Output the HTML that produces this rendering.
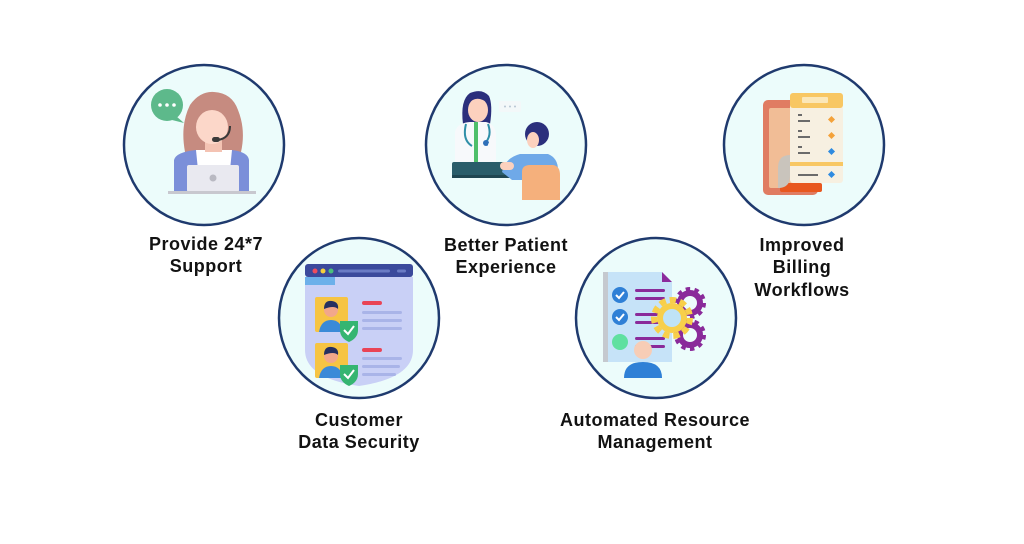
<!DOCTYPE html>
<html><head><meta charset="utf-8"><style>
html,body{margin:0;padding:0;background:#fff;}
svg{display:block;}
text{font-family:"Liberation Sans",Arial,sans-serif;font-weight:bold;font-size:18px;letter-spacing:0.5px;fill:#121212;text-anchor:middle;}
</style></head><body>
<svg width="1024" height="544" viewBox="0 0 1024 544" xmlns="http://www.w3.org/2000/svg">
<rect width="1024" height="544" fill="#fff"/>
<g fill="#ecfcfb" stroke="#1f3a6e" stroke-width="2.5">
<circle cx="204" cy="145" r="80"/>
<circle cx="506" cy="145" r="80"/>
<circle cx="804" cy="145" r="80"/>
<circle cx="359" cy="318" r="80"/>
<circle cx="656" cy="318" r="80"/>
</g>

<!-- Support icon -->
<g>
<circle cx="167" cy="105" r="16" fill="#5db98b"/>
<path d="M176 116 L184 123 L172 120 Z" fill="#5db98b"/>
<circle cx="160" cy="105" r="1.8" fill="#fff"/><circle cx="167" cy="105" r="1.8" fill="#fff"/><circle cx="174" cy="105" r="1.8" fill="#fff"/>
<path d="M185 152 Q180 125 190 105 Q200 91 214 92 Q232 93 238 110 Q246 130 241 152 Z" fill="#c68b80"/>
<path d="M174 192 L174 160 Q176 152 196 150 L232 150 Q248 152 249 160 L249 192 Z" fill="#7b8fd9"/>
<path d="M196 150 L232 150 L230 170 L198 170 Z" fill="#fff"/>
<rect x="205" y="138" width="17" height="14" fill="#f4c3b3"/>
<ellipse cx="212" cy="127" rx="16" ry="17" fill="#fcd7c9"/>
<path d="M195 114 Q208 98 231 112 L231 103 Q214 92 195 104 Z" fill="#c68b80"/>
<path d="M230 126 Q230 138 218 140" stroke="#3a3a3a" stroke-width="2" fill="none"/>
<rect x="212" y="137" width="8" height="5" rx="2.5" fill="#3a3a3a"/>
<rect x="187" y="165" width="52" height="27" rx="2" fill="#e9e9f0"/>
<circle cx="213" cy="178" r="3.5" fill="#b9b9c2"/>
<rect x="168" y="191" width="88" height="3" fill="#c8c8cf"/>
</g>

<!-- Patient icon -->
<g>
<rect x="499" y="101" width="22" height="11" rx="2" fill="#f3f8f9"/>
<circle cx="505" cy="106.5" r="1" fill="#b8c6d4"/><circle cx="510" cy="106.5" r="1" fill="#b8c6d4"/><circle cx="515" cy="106.5" r="1" fill="#b8c6d4"/>
<path d="M463 124 Q460 100 470 93 Q482 88 489 96 Q493 105 490 124 Z" fill="#2b2f7c"/>
<ellipse cx="478" cy="110" rx="10" ry="12" fill="#fcd1be"/>
<path d="M468 104 Q476 94 488 103 L488 96 Q478 90 468 98 Z" fill="#2b2f7c"/>
<path d="M455 162 L455 132 Q457 123 470 122 L486 122 Q495 124 496 134 L496 162 Z" fill="#f7f9fb"/>
<rect x="474" y="122" width="4" height="40" fill="#4fbf6a"/>
<path d="M466 124 Q462 140 472 146 M488 124 Q492 135 486 142" stroke="#2f8fa8" stroke-width="2" fill="none"/>
<circle cx="486" cy="143" r="3" fill="#2f6fb8"/>
<rect x="488" y="142" width="8" height="10" rx="3" fill="#f7f9fb"/>
<rect x="452" y="162" width="58" height="16" rx="2" fill="#2a5d6a"/>
<rect x="452" y="175" width="58" height="3" fill="#1f4651"/>
<circle cx="537" cy="134" r="12" fill="#2b2f7c"/>
<ellipse cx="533" cy="140" rx="6" ry="8" fill="#fcd1be"/>
<path d="M502 172 Q505 158 520 154 L548 154 Q558 158 558 170 L558 180 L512 180 Z" fill="#6fa9e8"/>
<rect x="500" y="162" width="14" height="8" rx="4" fill="#fcd1be"/>
<path d="M522 172 Q522 165 530 165 L553 165 Q560 166 560 175 L560 200 L522 200 Z" fill="#f5b07c"/>
</g>

<!-- Billing icon -->
<g>
<rect x="763" y="100" width="55" height="95" rx="5" fill="#e07c62"/>
<rect x="769" y="108" width="35" height="80" rx="2" fill="#f1bd96"/>
<rect x="780" y="183" width="42" height="9" rx="2" fill="#e8571e"/>
<rect x="790" y="93" width="53" height="90" rx="3" fill="#f7f0e1"/>
<rect x="790" y="93" width="53" height="15" rx="3" fill="#f8c763"/>
<rect x="802" y="97" width="26" height="6" rx="1" fill="#fbe7b8"/>
<rect x="790" y="162" width="53" height="4" fill="#f8c763"/>
<path d="M790 155 Q778 155 778 168 L778 188 Q790 188 790 176 Z" fill="#c9c4bc"/>
<g fill="#6b6b6b">
<rect x="798" y="114" width="4" height="2"/><rect x="798" y="120" width="12" height="2"/>
<rect x="798" y="130" width="4" height="2"/><rect x="798" y="136" width="12" height="2"/>
<rect x="798" y="146" width="4" height="2"/><rect x="798" y="152" width="12" height="2"/>
<rect x="798" y="174" width="20" height="2"/>
</g>
<g>
<rect x="829" y="117" width="5" height="5" transform="rotate(45 831.5 119.5)" fill="#f4a23a"/>
<rect x="829" y="133" width="5" height="5" transform="rotate(45 831.5 135.5)" fill="#f4a23a"/>
<rect x="829" y="149" width="5" height="5" transform="rotate(45 831.5 151.5)" fill="#2f8be0"/>
<rect x="829" y="172" width="5" height="5" transform="rotate(45 831.5 174.5)" fill="#2f8be0"/>
</g>
</g>

<!-- Data security icon -->
<g>
<path d="M305 277 L413 277 L413 350 Q413 378 359 386 Q305 378 305 350 Z" fill="#c9d0f6"/>
<rect x="305" y="264" width="108" height="13" rx="3" fill="#3b4a9c"/>
<rect x="305" y="277" width="30" height="8" fill="#6cb0ea"/>
<circle cx="315" cy="271" r="2.5" fill="#ef4d5f"/><circle cx="323" cy="271" r="2.5" fill="#f5d03c"/><circle cx="331" cy="271" r="2.5" fill="#4ac07c"/>
<rect x="338" y="269.5" width="52" height="3" rx="1.5" fill="#6a7bc4"/>
<rect x="397" y="269.5" width="9" height="3" rx="1.5" fill="#6a7bc4"/>
<rect x="315" y="297" width="33" height="35" rx="2" fill="#f6c443"/>
<circle cx="331" cy="310" r="7" fill="#f2a78a"/>
<path d="M324 309 Q324 300 332 301 Q339 302 338 309 Q334 305 324 309 Z" fill="#263060"/>
<path d="M319 332 Q321 320 331 320 Q341 320 343 332 Z" fill="#3a8ad8"/>
<path d="M340 321 L358 321 L358 330 Q358 338 349 342 Q340 338 340 330 Z" fill="#35b571"/>
<path d="M344 330 L348 334 L354 326" stroke="#fff" stroke-width="2" fill="none"/>
<rect x="315" y="343" width="33" height="35" rx="2" fill="#f6c443"/>
<circle cx="331" cy="356" r="7" fill="#f2a78a"/>
<path d="M324 355 Q324 346 332 347 Q339 348 338 355 Q334 351 324 355 Z" fill="#263060"/>
<path d="M319 378 Q321 366 331 366 Q341 366 343 378 Z" fill="#3a8ad8"/>
<path d="M340 365 L358 365 L358 374 Q358 382 349 386 Q340 382 340 374 Z" fill="#35b571"/>
<path d="M344 374 L348 378 L354 370" stroke="#fff" stroke-width="2" fill="none"/>
<rect x="362" y="301" width="20" height="4" rx="2" fill="#e94456"/>
<g fill="#a9b4e8"><rect x="362" y="311" width="40" height="3" rx="1.5"/><rect x="362" y="319" width="40" height="3" rx="1.5"/><rect x="362" y="327" width="40" height="3" rx="1.5"/></g>
<rect x="362" y="348" width="20" height="4" rx="2" fill="#e94456"/>
<g fill="#a9b4e8"><rect x="362" y="357" width="40" height="3" rx="1.5"/><rect x="362" y="365" width="38" height="3" rx="1.5"/><rect x="362" y="373" width="34" height="3" rx="1.5"/></g>
</g>

<!-- Resource icon -->
<g>
<path d="M603 272 L662 272 L672 282 L672 362 L603 362 Z" fill="#c6e3f8"/>
<rect x="603" y="272" width="5" height="90" fill="#c5c9cf"/>
<path d="M662 272 L672 282 L662 282 Z" fill="#8c2a9c"/>
<circle cx="620" cy="295" r="8" fill="#2f80d6"/>
<path d="M616 295 L619 298 L624 292" stroke="#fff" stroke-width="2" fill="none"/>
<circle cx="620" cy="317" r="8" fill="#2f80d6"/>
<path d="M616 317 L619 320 L624 314" stroke="#fff" stroke-width="2" fill="none"/>
<circle cx="620" cy="342" r="8" fill="#5fe0a0"/>
<g fill="#8a2a9a">
<rect x="635" y="289" width="30" height="3" rx="1.5"/><rect x="635" y="297" width="30" height="3" rx="1.5"/>
<rect x="635" y="313" width="25" height="3" rx="1.5"/><rect x="635" y="321" width="25" height="3" rx="1.5"/>
<rect x="635" y="337" width="30" height="3" rx="1.5"/><rect x="635" y="345" width="30" height="3" rx="1.5"/>
</g>
<circle cx="690" cy="303" r="10" fill="none" stroke="#8a2a9a" stroke-width="6"/>
<circle cx="690" cy="303" r="14" fill="none" stroke="#8a2a9a" stroke-width="4" stroke-dasharray="4.4 4.4"/>
<circle cx="690" cy="335" r="10" fill="none" stroke="#8a2a9a" stroke-width="6"/>
<circle cx="690" cy="335" r="14" fill="none" stroke="#8a2a9a" stroke-width="4" stroke-dasharray="4.4 4.4"/>
<circle cx="672" cy="318" r="15" fill="#f8cf4a"/>
<circle cx="672" cy="318" r="18" fill="none" stroke="#f8cf4a" stroke-width="6" stroke-dasharray="6.3 4"/>
<circle cx="672" cy="318" r="9" fill="#bfe3f6"/>
<circle cx="643" cy="350" r="9" fill="#f7cdb6"/>
<path d="M624 378 Q624 362 643 362 Q662 362 662 378 Z" fill="#2f80d6"/>
</g>

<text x="206" y="250">Provide 24*7</text>
<text x="206" y="272">Support</text>
<text x="506" y="251">Better Patient</text>
<text x="506" y="273">Experience</text>
<text x="802" y="251">Improved</text>
<text x="802" y="273">Billing</text>
<text x="802" y="296">Workflows</text>
<text x="359" y="426">Customer</text>
<text x="359" y="448">Data Security</text>
<text x="655" y="426">Automated Resource</text>
<text x="655" y="448">Management</text>
</svg>
</body></html>
